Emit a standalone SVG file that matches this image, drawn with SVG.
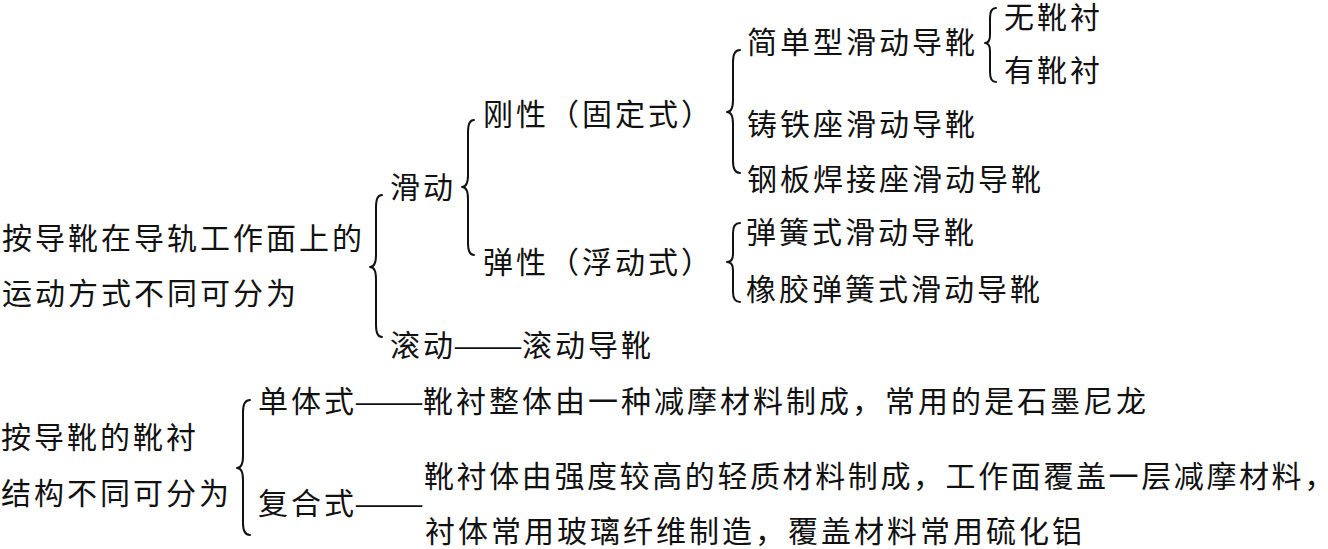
<svg xmlns="http://www.w3.org/2000/svg" width="1328" height="549" viewBox="0 0 1328 549">
<style>
text{font-family:"Noto Sans CJK SC","Noto Sans CJK JP",sans-serif;font-size:30px;letter-spacing:3px;fill:#111}
.dash{font-family:"Liberation Serif",serif;letter-spacing:0;font-size:33px}
.brace{fill:none;stroke:#111;stroke-width:2;stroke-linecap:round;stroke-linejoin:round}
</style>
<rect width="1328" height="549" fill="#fff"/>
<g id="connectors">
<path class="brace" d="M382 195 Q376 195 376 207 L376 255 Q376 267 370 267 Q376 267 376 279 L376 325 Q376 337 382 337"/>
<path class="brace" d="M474 120 Q468 120 468 132 L468 175 Q468 187 462 187 Q468 187 468 199 L468 243 Q468 255 474 255"/>
<path class="brace" d="M740 50 Q733 50 733 62 L733 100 Q733 112 727 112 Q733 112 733 124 L733 161 Q733 173 740 173"/>
<path class="brace" d="M996 8 Q990 8 990 18 L990 35 Q990 43 985 43 Q990 43 990 51 L990 72 Q990 82 996 82"/>
<path class="brace" d="M740 223 Q733 223 733 233 L733 254 Q733 262 727 262 Q733 262 733 270 L733 292 Q733 302 740 302"/>
<path class="brace" d="M250 400 Q243 400 243 412 L243 456 Q243 468 237 468 Q243 468 243 480 L243 523 Q243 535 250 535"/>
</g>
<g id="n-root1"><text x="2" y="249">按导靴在导轨工作面上的</text><text x="2" y="304">运动方式不同可分为</text></g>
<g id="n-slide"><text x="390" y="198">滑动</text></g>
<g id="n-roll"><text x="390" y="356">滚动<tspan class="dash" x="455">——</tspan><tspan x="522">滚动导靴</tspan></text></g>
<g id="n-rigid"><text x="483" y="125">刚性（固定式）</text></g>
<g id="n-elastic"><text x="483" y="273">弹性（浮动式）</text></g>
<g id="n-simple"><text x="747" y="53">简单型滑动导靴</text></g>
<g id="n-without"><text x="1004" y="28">无靴衬</text></g>
<g id="n-with"><text x="1004" y="81">有靴衬</text></g>
<g id="n-castiron"><text x="747" y="135">铸铁座滑动导靴</text></g>
<g id="n-steel"><text x="747" y="190">钢板焊接座滑动导靴</text></g>
<g id="n-spring"><text x="746" y="243">弹簧式滑动导靴</text></g>
<g id="n-rubber"><text x="746" y="300">橡胶弹簧式滑动导靴</text></g>
<g id="n-root2"><text x="1" y="448">按导靴的靴衬</text><text x="1" y="504">结构不同可分为</text></g>
<g id="n-single"><text x="258" y="412">单体式<tspan class="dash" x="356">——</tspan><tspan x="423">靴衬整体由一种减摩材料制成，常用的是石墨尼龙</tspan></text></g>
<g id="n-composite"><text x="258" y="514">复合式<tspan class="dash" x="356">——</tspan></text><text x="424" y="487" style="letter-spacing:2.6px">靴衬体由强度较高的轻质材料制成，工作面覆盖一层减摩材料，</text><text x="425" y="542">衬体常用玻璃纤维制造，覆盖材料常用硫化铝</text></g>
</svg>
